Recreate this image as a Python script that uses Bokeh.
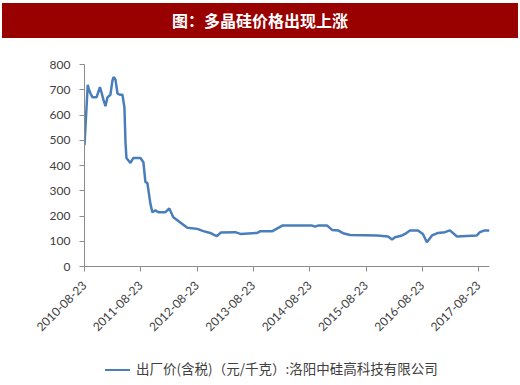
import pandas as pd
from datetime import datetime
from bokeh.plotting import figure
from bokeh.models import Div, FixedTicker, DatetimeTickFormatter, Range1d
from bokeh.layouts import column
from bokeh.embed import file_html
from bokeh.resources import INLINE

title_text = "图：多晶硅价格出现上涨"
series_name = "出厂价(含税)（元/千克）:洛阳中硅高科技有限公司"
line_color = "#4A7EBB"

dates = [
    "2010-08-23", "2010-09-13", "2010-09-21", "2010-10-01", "2010-10-14", "2010-11-09",
    "2010-12-01", "2010-12-11", "2010-12-24", "2011-01-06", "2011-01-19", "2011-02-07",
    "2011-02-20", "2011-02-27", "2011-03-12", "2011-03-25", "2011-04-13", "2011-04-26",
    "2011-05-09", "2011-05-16", "2011-05-22", "2011-06-04", "2011-06-17", "2011-07-06",
    "2011-08-21", "2011-09-09", "2011-09-22", "2011-10-05", "2011-10-24", "2011-11-06",
    "2011-11-26", "2011-12-15", "2012-01-30", "2012-02-24", "2012-03-21", "2012-06-20",
    "2012-08-24", "2012-10-02", "2012-11-16", "2012-12-10", "2012-12-29", "2013-01-24",
    "2013-04-27", "2013-05-30", "2013-09-17", "2013-10-07", "2013-12-24", "2014-02-26",
    "2014-09-08", "2014-09-27", "2014-10-15", "2014-12-14", "2015-01-15", "2015-02-23",
    "2015-03-27", "2015-05-12", "2015-11-03", "2016-01-13", "2016-02-08", "2016-02-27",
    "2016-04-13", "2016-05-02", "2016-06-03", "2016-07-25", "2016-08-26", "2016-09-21",
    "2016-10-24", "2016-12-02", "2017-01-16", "2017-02-17", "2017-04-04", "2017-08-11",
    "2017-08-31", "2017-10-02", "2017-11-01",
]
prices = [
    480, 720, 700, 685, 670, 670,
    710, 690, 660, 635, 670, 680,
    735, 750, 740, 685, 680, 680,
    630, 490, 430, 420, 410, 430,
    430, 413, 335, 330, 250, 215,
    222, 215, 215, 230, 195, 153,
    149, 140, 133, 125, 120, 135,
    136, 129, 133, 140, 140, 162,
    162, 158, 162, 162, 145, 143,
    132, 125, 123, 119, 107, 116,
    123, 129, 143, 143, 129, 96,
    123, 133, 136, 143, 119, 123,
    136, 143, 143,
]
tick_labels = ["2010-08-23", "2011-08-23", "2012-08-23", "2013-08-23",
               "2014-08-23", "2015-08-23", "2016-08-23", "2017-08-23"]
y_ticks = [0, 100, 200, 300, 400, 500, 600, 700, 800]

x = pd.to_datetime(dates)
tick_ms = [pd.Timestamp(d).value / 1e6 for d in tick_labels]

W = 520
header = Div(
    text=('<div style="position:relative;left:2px;top:3px;background:#990000;color:#ffffff;'
          'width:516px;height:35px;text-align:center;line-height:35px;'
          'font-family:\'Noto Sans CJK SC\';font-weight:bold;font-size:16px;">'
          + title_text + '</div>'),
    width=W, height=38, margin=0,
)

p = figure(width=W, height=300, x_axis_type="datetime", output_backend="svg",
           toolbar_location=None, margin=0,
           x_range=Range1d(datetime(2010, 8, 23), datetime(2017, 11, 1)),
           y_range=Range1d(0, 800),
           min_border_left=84, min_border_right=31, min_border_top=26, min_border_bottom=72)
p.outline_line_color = None
p.grid.visible = False
p.background_fill_color = "white"

r = p.line(x, prices, line_color=line_color, line_width=2.5)

ax_col = "#8C8C8C"
lab_col = "#404040"
p.yaxis.ticker = FixedTicker(ticks=y_ticks)
p.yaxis.axis_line_color = ax_col
p.yaxis.major_tick_line_color = ax_col
p.yaxis.major_tick_out = 5
p.yaxis.major_tick_in = 0
p.yaxis.minor_tick_line_color = None
p.yaxis.major_label_standoff = 9
p.yaxis.major_label_text_font = "Lato"
p.yaxis.major_label_text_font_size = "12px"
p.yaxis.major_label_text_color = lab_col

p.xaxis.ticker = FixedTicker(ticks=tick_ms)
fmt = "%Y-%m-%d"
p.xaxis.formatter = DatetimeTickFormatter(milliseconds=fmt, seconds=fmt, minsec=fmt, minutes=fmt,
                                          hourmin=fmt, hours=fmt, days=fmt, months=fmt, years=fmt)
p.xaxis.axis_line_color = ax_col
p.xaxis.major_tick_line_color = ax_col
p.xaxis.major_tick_out = 5
p.xaxis.major_tick_in = 0
p.xaxis.minor_tick_line_color = None
p.xaxis.major_label_orientation = 0.785398
p.xaxis.major_label_standoff = 12
p.xaxis.major_label_text_font = "Lato"
p.xaxis.major_label_text_font_size = "12px"
p.xaxis.major_label_text_color = lab_col

legend_div = Div(
    text=('<div style="padding-left:105px;padding-top:21px;white-space:nowrap;'
          'font-family:\'Noto Sans CJK SC\';font-size:13.5px;line-height:18px;color:' + lab_col + ';">'
          '<span style="display:inline-block;width:25px;height:0;border-top:2.5px solid ' + line_color + ';'
          'vertical-align:middle;margin-right:6px;"></span>' + series_name + '</div>'),
    width=W, height=47, margin=0,
)

layout = column(header, p, legend_div, spacing=0)
open("out.html", "w").write(file_html(layout, INLINE))
